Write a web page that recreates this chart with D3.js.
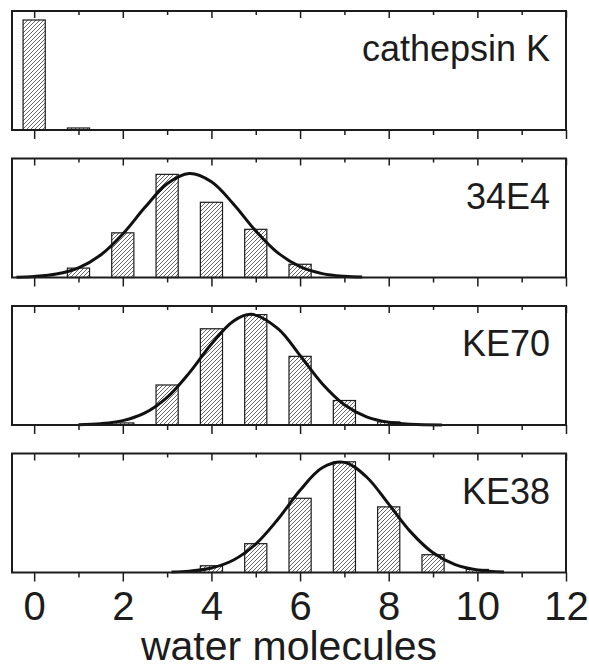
<!DOCTYPE html>
<html>
<head>
<meta charset="utf-8">
<script src="https://cdn.jsdelivr.net/npm/d3@7"></script>
<style>
  body { margin: 0; background: #fff; }
  svg { display: block; font-family: "Liberation Sans", Arial, sans-serif; }
</style>
</head>
<body>
<svg id="chart"></svg>
<script>
// panel names, top to bottom
var panelNames = ["cathepsin K", "34E4", "KE70", "KE38"];

// histogram values (percent of frames) per panel, x = number of water molecules
var bins0 = [0, 1];
var vals0 = [98, 1.8];
var bins1 = [1, 2, 3, 4, 5, 6];
var vals1 = [3.2, 15.2, 35.1, 25.6, 16.4, 4.5];
var bins2 = [2, 3, 4, 5, 6, 7, 8];
var vals2 = [0.6, 11.6, 27.9, 32.0, 19.9, 7.1, 0.9];
var bins3 = [4, 5, 6, 7, 8, 9, 10];
var vals3 = [2.2, 9.4, 24.2, 36.1, 21.4, 5.8, 1.0];

// fitted curves, [x, percent]
var fit1 = [[-0.4, 0.11], [0, 0.35], [0.5, 1.17], [1, 3.28], [1.5, 7.66], [2, 14.83], [2.5, 23.87],
  [3, 31.9], [3.5, 35.39], [4, 32.6], [4.5, 24.95], [5, 15.86], [5.5, 8.37], [6, 3.67],
  [6.5, 1.33], [7, 0.40], [7.4, 0.14]];
var fit2 = [[1.0, 0.09], [1.5, 0.38], [2, 1.26], [2.5, 3.5], [3, 8.01], [3.5, 15.11], [4, 23.51],
  [4.5, 30.18], [4.9, 32.1], [5.5, 27.95], [6, 20.16], [6.5, 11.99], [7, 5.89], [7.5, 2.38],
  [8, 0.80], [8.5, 0.22], [9.2, 0.03]];
var fit3 = [[3.1, 0.15], [3.5, 0.45], [4, 1.49], [4.5, 4.09], [5, 9.27], [5.5, 17.35], [6, 26.8],
  [6.5, 34.15], [7, 35.9], [7.5, 31.14], [8, 22.29], [8.5, 13.16], [9, 6.41], [9.5, 2.58],
  [10, 0.85], [10.6, 0.18]];

// upper end of each panel's y axis (percent)
var yMaxes = [106, 40.5, 34.5, 38.8];

var majorTicks = [0, 2, 4, 6, 8, 10, 12];
var minorTicks = [1, 3, 5, 7, 9, 11];
var xTitle = "water molecules";

var panels = [
  { name: panelNames[0], bins: bins0, vals: vals0, fit: null, ymax: yMaxes[0] },
  { name: panelNames[1], bins: bins1, vals: vals1, fit: fit1, ymax: yMaxes[1] },
  { name: panelNames[2], bins: bins2, vals: vals2, fit: fit2, ymax: yMaxes[2] },
  { name: panelNames[3], bins: bins3, vals: vals3, fit: fit3, ymax: yMaxes[3] }
];

var W = 589, H = 668;
var left = 12, right = 566;
var top0 = 11, ph = 119, step = 147.5;
var ink = "#1c1c1c";

var svg = d3.select("#chart").attr("width", W).attr("height", H);

var defs = svg.append("defs");
defs.append("pattern")
  .attr("id", "hatch")
  .attr("patternUnits", "userSpaceOnUse")
  .attr("width", 4).attr("height", 4)
  .append("path")
  .attr("d", "M-1,1 l2,-2 M0,4 l4,-4 M3,5 l2,-2")
  .attr("stroke", "#333").attr("stroke-width", 0.75);

var x = d3.scaleLinear().domain([-0.5, 12]).range([left, right]);
var barW = x(0.25) - x(-0.25);

panels.forEach(function (p, i) {
  var t = top0 + i * step, b = t + ph;
  var y = d3.scaleLinear().domain([0, p.ymax]).range([b, t]);
  var g = svg.append("g");

  // bars
  g.selectAll("rect.bar").data(p.bins).enter().append("rect")
    .attr("class", "bar")
    .attr("x", function (d) { return x(d) - barW / 2; })
    .attr("y", function (d, j) { return y(p.vals[j]); })
    .attr("width", barW)
    .attr("height", function (d, j) { return b - y(p.vals[j]); })
    .attr("fill", "url(#hatch)")
    .attr("stroke", ink).attr("stroke-width", 1.2);

  // fitted curve
  if (p.fit) {
    var line = d3.line().curve(d3.curveCatmullRom)
      .x(function (d) { return x(d[0]); })
      .y(function (d) { return y(d[1]); });
    g.append("path").datum(p.fit)
      .attr("d", line).attr("fill", "none")
      .attr("stroke", "#111").attr("stroke-width", 3);
  }

  // ticks: bottom outward, top inward
  var isLast = i === panels.length - 1;
  var bMaj = g.append("g").attr("transform", "translate(0," + b + ")")
    .call(d3.axisBottom(x).tickValues(majorTicks).tickSize(9).tickPadding(12)
      .tickFormat(isLast ? d3.format("d") : function () { return ""; }));
  var bMin = g.append("g").attr("transform", "translate(0," + b + ")")
    .call(d3.axisBottom(x).tickValues(minorTicks).tickSize(5).tickFormat(""));
  var tMaj = g.append("g").attr("transform", "translate(0," + t + ")")
    .call(d3.axisBottom(x).tickValues(majorTicks).tickSize(7).tickFormat(""));
  var tMin = g.append("g").attr("transform", "translate(0," + t + ")")
    .call(d3.axisBottom(x).tickValues(minorTicks).tickSize(4).tickFormat(""));
  [bMaj, bMin, tMaj, tMin].forEach(function (a) {
    a.select(".domain").remove();
    a.selectAll(".tick line").attr("stroke", ink).attr("stroke-width", 1.5);
  });
  if (isLast) {
    bMaj.selectAll(".tick text")
      .attr("dy", null).attr("y", 47.5)
      .attr("fill", ink)
      .style("font-size", "40px")
      .style("font-family", "'Liberation Sans', Arial, sans-serif");
  }

  // frame
  g.append("rect")
    .attr("x", left).attr("y", t)
    .attr("width", right - left).attr("height", ph)
    .attr("fill", "none").attr("stroke", ink).attr("stroke-width", 2);

  // panel label
  g.append("text")
    .attr("x", right - 16).attr("y", t + 50)
    .attr("text-anchor", "end")
    .attr("fill", ink)
    .style("font-size", "36px")
    .text(p.name);
});

svg.append("text")
  .attr("x", (left + right) / 2).attr("y", 660)
  .attr("text-anchor", "middle")
  .attr("fill", ink)
  .style("font-size", "41px")
  .text(xTitle);
</script>
</body>
</html>
